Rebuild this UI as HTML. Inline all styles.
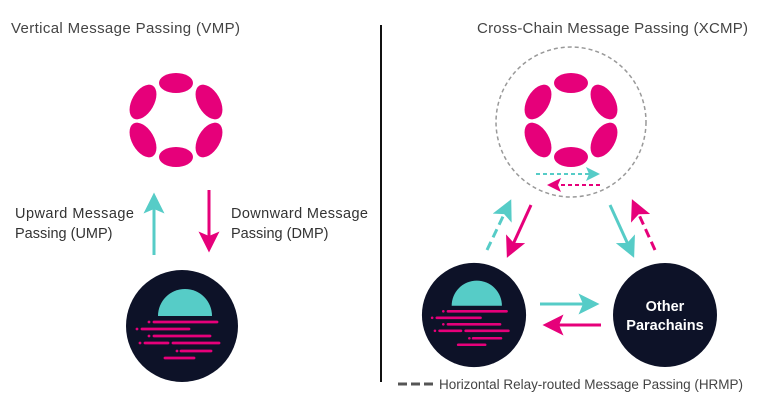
<!DOCTYPE html>
<html><head><meta charset="utf-8"><style>
html,body{margin:0;padding:0;background:#fff;}
svg{display:block;font-family:"Liberation Sans",sans-serif;}
</style></head><body>
<svg width="761" height="417" viewBox="0 0 761 417" xmlns="http://www.w3.org/2000/svg">
<defs>
<marker id="ht" markerWidth="7" markerHeight="7" refX="4.5" refY="3.5" orient="auto" markerUnits="strokeWidth"><path d="M0,0 L7,3.5 L0,7 L1.5,3.5 Z" fill="#56ccc7"/></marker>
<marker id="hp" markerWidth="7" markerHeight="7" refX="4.5" refY="3.5" orient="auto" markerUnits="strokeWidth"><path d="M0,0 L7,3.5 L0,7 L1.5,3.5 Z" fill="#e6007a"/></marker>
<marker id="hts" markerWidth="7" markerHeight="7" refX="4.5" refY="3.5" orient="auto" markerUnits="strokeWidth"><path d="M0,0 L7,3.5 L0,7 L1.5,3.5 Z" fill="#56ccc7"/></marker>
<g id="dot">
<ellipse cx="0" cy="-37" rx="17" ry="10" fill="#e6007a"/>
<ellipse cx="0" cy="37" rx="17" ry="10" fill="#e6007a"/>
<ellipse cx="-33" cy="-18" rx="19" ry="11" fill="#e6007a" transform="rotate(-60 -33 -18)"/>
<ellipse cx="33" cy="-18" rx="19" ry="11" fill="#e6007a" transform="rotate(60 33 -18)"/>
<ellipse cx="-33" cy="20" rx="19" ry="11" fill="#e6007a" transform="rotate(60 -33 20)"/>
<ellipse cx="33" cy="20" rx="19" ry="11" fill="#e6007a" transform="rotate(-60 33 20)"/>
</g>
<g id="para">
<circle cx="0" cy="0" r="56" fill="#0d1228"/>
<path d="M-24,-10 A27,27 0 0 1 30,-10 Z" fill="#56ccc7"/>
<g stroke="#e6007a" stroke-width="2.8" stroke-linecap="round">
<line x1="-28" y1="-4" x2="35" y2="-4"/><line x1="-33" y1="-4" x2="-33" y2="-4"/>
<line x1="-40" y1="3" x2="7" y2="3"/><line x1="-45" y1="3" x2="-45" y2="3"/>
<line x1="-28" y1="10" x2="28" y2="10"/><line x1="-33" y1="10" x2="-33" y2="10"/>
<line x1="-37" y1="17" x2="-14" y2="17"/><line x1="-9" y1="17" x2="37" y2="17"/><line x1="-42" y1="17" x2="-42" y2="17"/>
<line x1="-1" y1="25" x2="29" y2="25"/><line x1="-5" y1="25" x2="-5" y2="25"/>
<line x1="-17" y1="32" x2="12" y2="32"/>
</g>
</g>
</defs>

<text x="11" y="33" font-size="15" fill="#444" textLength="229">Vertical Message Passing (VMP)</text>
<text x="477" y="33" font-size="15" fill="#444" textLength="271">Cross-Chain Message Passing (XCMP)</text>
<line x1="381" y1="25" x2="381" y2="382" stroke="#111" stroke-width="2"/>

<use href="#dot" x="176" y="120"/>
<use href="#para" x="182" y="326"/>
<line x1="154" y1="255" x2="154" y2="200" stroke="#56ccc7" stroke-width="3" marker-end="url(#ht)"/>
<line x1="209" y1="190" x2="209" y2="245" stroke="#e6007a" stroke-width="3" marker-end="url(#hp)"/>
<text font-size="14.5" fill="#333"><tspan x="15" y="218" textLength="119">Upward Message</tspan><tspan x="15" y="238">Passing (UMP)</tspan></text>
<text font-size="14.5" fill="#333"><tspan x="231" y="218" textLength="137">Downward Message</tspan><tspan x="231" y="238">Passing (DMP)</tspan></text>

<circle cx="571" cy="122" r="75" fill="none" stroke="#999" stroke-width="1.5" stroke-dasharray="4,3"/>
<use href="#dot" x="571" y="120"/>
<line x1="536" y1="174" x2="595" y2="174" stroke="#56ccc7" stroke-width="2" stroke-dasharray="4,3" marker-end="url(#ht)"/>
<line x1="600" y1="185" x2="552" y2="185" stroke="#e6007a" stroke-width="2" stroke-dasharray="4,3" marker-end="url(#hp)"/>

<line x1="487" y1="250" x2="508" y2="206" stroke="#56ccc7" stroke-width="3" stroke-dasharray="9,5" marker-end="url(#ht)"/>
<line x1="531" y1="205" x2="510" y2="251" stroke="#e6007a" stroke-width="3" marker-end="url(#hp)"/>
<line x1="610" y1="205" x2="631" y2="251" stroke="#56ccc7" stroke-width="3" marker-end="url(#ht)"/>
<line x1="655" y1="250" x2="635" y2="206" stroke="#e6007a" stroke-width="3" stroke-dasharray="9,5" marker-end="url(#hp)"/>

<g transform="translate(474 315) scale(0.93)"><use href="#para"/></g>
<circle cx="665" cy="315" r="52" fill="#0d1228"/>
<text x="665" y="311" font-size="14.5" font-weight="bold" fill="#fff" text-anchor="middle">Other</text>
<text x="665" y="330" font-size="14.5" font-weight="bold" fill="#fff" text-anchor="middle">Parachains</text>
<line x1="540" y1="304" x2="592" y2="304" stroke="#56ccc7" stroke-width="3" marker-end="url(#ht)"/>
<line x1="601" y1="325" x2="550" y2="325" stroke="#e6007a" stroke-width="3" marker-end="url(#hp)"/>

<line x1="398" y1="384" x2="436" y2="384" stroke="#555" stroke-width="3" stroke-dasharray="9,4"/>
<text x="439" y="389" font-size="13.5" fill="#444" textLength="304">Horizontal Relay-routed Message Passing (HRMP)</text>
</svg>
</body></html>
